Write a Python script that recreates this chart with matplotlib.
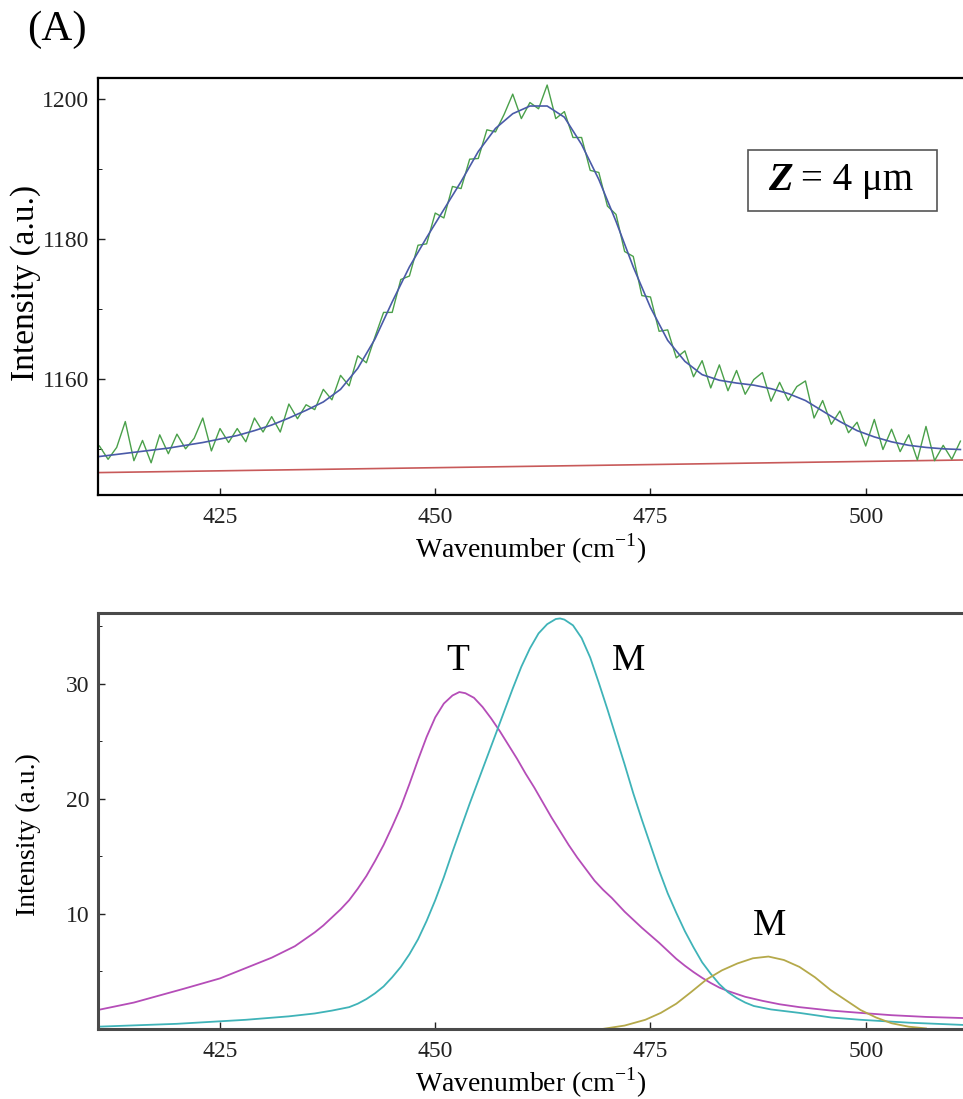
import numpy as np
import matplotlib.pyplot as plt
from matplotlib.ticker import MultipleLocator, FixedLocator
from matplotlib.patches import Rectangle

plt.rcParams['font.family'] = ['Liberation Serif', 'DejaVu Serif']
plt.rcParams['mathtext.fontset'] = 'custom'
plt.rcParams['mathtext.rm'] = 'Liberation Serif'

# === верхний спектр: измерение, подгонка, базовая линия ===
wn_meas = np.arange(411, 512, 1.0)
meas = [1150.4, 1148.5, 1150.2, 1153.9, 1148.3, 1151.2, 1148.0, 1152.0, 1149.3, 1152.1,
        1150.0, 1151.5, 1154.4, 1149.7, 1152.9, 1150.9, 1152.9, 1151.0, 1154.4, 1152.4,
        1154.6, 1152.4, 1156.4, 1154.3, 1156.3, 1155.6, 1158.5, 1157.0, 1160.5, 1159.0,
        1163.3, 1162.3, 1166.0, 1169.5, 1169.5, 1174.2, 1174.7, 1179.1, 1179.3, 1183.7,
        1183.0, 1187.5, 1187.2, 1191.4, 1191.5, 1195.6, 1195.3, 1197.8, 1200.7, 1197.2,
        1199.5, 1198.6, 1202.0, 1197.2, 1198.2, 1194.5, 1194.5, 1189.8, 1189.5, 1184.7,
        1183.5, 1178.2, 1177.5, 1171.9, 1171.7, 1166.8, 1167.0, 1163.0, 1164.0, 1160.3,
        1162.6, 1158.7, 1162.0, 1158.3, 1161.2, 1157.8, 1159.9, 1160.9, 1156.8, 1159.5,
        1156.9, 1158.9, 1159.7, 1154.4, 1156.9, 1153.5, 1155.4, 1152.3, 1153.8, 1150.4,
        1154.2, 1149.9, 1152.8, 1149.6, 1152.0, 1148.4, 1153.2, 1148.3, 1150.5, 1148.5,
        1151.1]

wn_fit = np.arange(411, 512, 2.0)
fit = [1148.9, 1149.2, 1149.5, 1149.8, 1150.1, 1150.5, 1150.9, 1151.4, 1151.9, 1152.6,
       1153.4, 1154.4, 1155.5, 1156.7, 1158.5, 1161.5, 1165.7, 1171.0, 1176.0, 1180.2,
       1184.2, 1188.2, 1192.5, 1195.8, 1197.9, 1199.0, 1199.0, 1197.4, 1193.5, 1188.5,
       1182.5, 1176.0, 1170.2, 1165.5, 1162.5, 1160.6, 1159.8, 1159.4, 1159.1, 1158.6,
       1157.9, 1156.9, 1155.4, 1153.9, 1152.6, 1151.7, 1151.0, 1150.5, 1150.2, 1150.0,
       1149.9]

wn_base = [410.8, 511.3]
base = [1146.6, 1148.4]

# === нижний график: разложенные пики ===
wn_T = [410.8, 415, 420.8, 425, 428, 431, 433.7, 436, 437, 438, 439, 440, 441, 442,
        443, 444, 445, 446, 447, 448, 449, 450, 451, 452, 452.8, 453.5, 454.5, 455.5,
        456.5, 457.5, 458.5, 459.5, 460.5, 461.5, 462.5, 463.5, 464.5, 465.5, 466.5,
        467.5, 468.5, 469.5, 470.5, 472, 474, 476, 477, 478, 479, 480, 481, 482, 483,
        484, 485, 486, 488, 490, 492.3, 496, 499.4, 503, 507, 511.4]
peak_T = [1.65, 2.3, 3.5, 4.4, 5.3, 6.2, 7.2, 8.4, 9.0, 9.7, 10.4, 11.2, 12.2, 13.3,
          14.6, 16.0, 17.6, 19.3, 21.3, 23.4, 25.4, 27.1, 28.3, 29.0, 29.3, 29.2, 28.8, 28.0,
          27.0, 25.9, 24.7, 23.5, 22.2, 21.0, 19.7, 18.4, 17.2, 16.0, 14.9,
          13.9, 12.9, 12.1, 11.4, 10.2, 8.8, 7.5, 6.8, 6.1, 5.5, 4.95, 4.45, 4.0, 3.6,
          3.3, 3.05, 2.8, 2.45, 2.15, 1.9, 1.6, 1.4, 1.2, 1.05, 0.95]

wn_M1 = [410.8, 420, 428, 433, 436, 438, 440, 441, 442, 443, 444, 445, 446, 447, 448,
         449, 450, 451, 452, 453, 454, 455, 456, 457, 458, 459, 460, 461, 462, 463, 464,
         464.5, 465, 466, 467, 468, 469, 470, 471, 472, 473, 474, 475, 476, 477, 478,
         479, 480, 481, 482, 483, 484, 485, 486, 487, 489, 492.3, 496, 499.4, 505, 511.4]
peak_M1 = [0.2, 0.45, 0.8, 1.1, 1.35, 1.6, 1.9, 2.2, 2.6, 3.1, 3.7, 4.5, 5.4, 6.5, 7.8,
           9.4, 11.2, 13.2, 15.4, 17.5, 19.6, 21.6, 23.6, 25.6, 27.6, 29.6, 31.5, 33.1, 34.4, 35.2, 35.65,
           35.7, 35.6, 35.1, 34.0, 32.3, 30.1, 27.8, 25.4, 23.0, 20.5, 18.2, 16.0, 13.8, 11.8, 10.1,
           8.5, 7.1, 5.8, 4.8, 3.9, 3.2, 2.7, 2.3, 2.0, 1.7, 1.4, 1.0, 0.8, 0.55, 0.35]

wn_M2 = [469.4, 472, 474.4, 476.2, 478, 479.7, 481.5, 483.3, 485.1, 486.9, 488.7,
         490.5, 492.3, 494.1, 495.9, 497.7, 499.4, 501.2, 503, 505, 507]
peak_M2 = [0.0, 0.3, 0.8, 1.4, 2.2, 3.2, 4.3, 5.1, 5.7, 6.15, 6.3,
           6.0, 5.4, 4.5, 3.4, 2.5, 1.65, 1.0, 0.5, 0.2, 0.05]

xlim = (410.8, 511.3)

# === Визуализация ===
fig = plt.figure(figsize=(9.63, 10.99), dpi=100)
ax1 = fig.add_axes([0.1015, 0.5496, 0.8985, 0.3794])
ax2 = fig.add_axes([0.1015, 0.0637, 0.8985, 0.3788])

ax1.plot(wn_base, base, color='#c85a5a', lw=1.2)
ax1.plot(wn_meas, meas, color='#4aa04a', lw=1.0)
ax1.plot(wn_fit, fit, color='#4a5aa8', lw=1.2)
ax1.set_ylim(1143.4, 1203)
ax1.yaxis.set_major_locator(MultipleLocator(20))
ax1.yaxis.set_minor_locator(MultipleLocator(10))

ax2.plot(wn_T, peak_T, color='#b54db8', lw=1.3)
ax2.plot(wn_M1, peak_M1, color='#3fb3b8', lw=1.3)
ax2.plot(wn_M2, peak_M2, color='#b5a94a', lw=1.3)
ax2.set_ylim(0, 36.2)
ax2.yaxis.set_major_locator(FixedLocator([10, 20, 30]))
ax2.yaxis.set_minor_locator(FixedLocator([5, 15, 25, 35]))

for ax, sc in ((ax1, 'black'), (ax2, '#4a4a4a')):
    ax.set_xlim(*xlim)
    ax.xaxis.set_major_locator(MultipleLocator(25))
    ax.tick_params(direction='in', labelsize=17, length=5, width=1, colors='#222222')
    ax.tick_params(axis='x', pad=9)
    ax.tick_params(axis='y', pad=6)
    ax.tick_params(which='minor', direction='in', length=3)
    ax.spines['right'].set_visible(False)
    for s in ('left', 'top', 'bottom'):
        ax.spines[s].set_color(sc)
        ax.spines[s].set_linewidth(1.6 if ax is ax1 else 2.2)
    ax.set_xlabel(r'Wavenumber (cm$^{\mathregular{-1}}$)', fontsize=20, labelpad=2)

ax1.set_ylabel('Intensity (a.u.)', fontsize=24)
ax1.yaxis.set_label_coords(-0.066, 0.508)
ax2.set_ylabel('Intensity (a.u.)', fontsize=20)
ax2.yaxis.set_label_coords(-0.066, 0.466)

# рамка с подписью Z
ax1.add_patch(Rectangle((0.7515, 0.681), 0.2185, 0.146, transform=ax1.transAxes,
                        fill=False, edgecolor='#555555', lw=1.2))
zt = ax1.text(0.775, 0.754, 'Z', transform=ax1.transAxes, fontsize=29,
              fontweight='bold', fontstyle='italic', va='center')
ax1.annotate('= 4 μm', xy=(1, 0), xycoords=zt, xytext=(6, 0),
             textcoords='offset points', fontsize=28, va='bottom')

ax2.text(452.6, 32.0, 'T', fontsize=27, ha='center', va='center')
ax2.text(472.5, 32.0, 'M', fontsize=27, ha='center', va='center')
ax2.text(488.8, 9.0, 'M', fontsize=27, ha='center', va='center')

fig.text(27 / 963, 1 - 30 / 1099, '(A)', fontsize=31, ha='left', va='center')

fig.savefig('out.png', dpi=100)
